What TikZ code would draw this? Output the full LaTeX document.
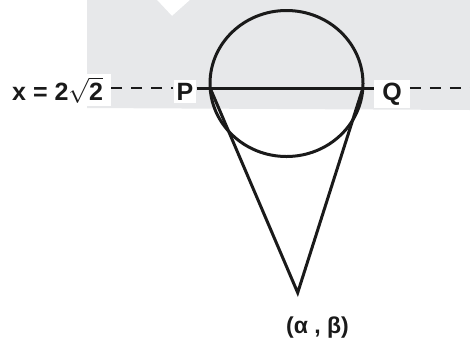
\documentclass[tikz,border=0pt]{standalone}
\usepackage{fontspec}
\setmainfont{Liberation Sans}
\definecolor{bggray}{HTML}{E7E8EA}
\definecolor{ink}{HTML}{1A1A1A}
\begin{document}
\begin{tikzpicture}[x=1pt,y=-1pt,
  lbl/.style={font=\fontsize{25}{28}\selectfont\bfseries, text=ink, fill=white, inner sep=3pt},
  curve/.style={line width=3pt, draw=ink},
  dashline/.style={line width=2.6pt, draw=ink, dash pattern=on 11pt off 9pt}]
\useasboundingbox (0,0) rectangle (470,341);
% background panel
\fill[bggray] (87,0) -- (157,0) -- (172,16) -- (190,0) -- (470,0) -- (470,110) -- (87,108) -- cycle;
% labels
\node[lbl, anchor=base west, inner xsep=8pt] (X) at (4,100) {x = 2$\sqrt{\mbox{2}}$};
\node[lbl, anchor=base] (P) at (185,100) {P};
\node[lbl, anchor=base, inner xsep=8pt] (Q) at (392,100) {Q};
\node[lbl, fill=none, anchor=base, font=\fontsize{23}{26}\selectfont\bfseries] (AB) at (317.5,333) {(α , β)};
% points
\coordinate (Pc) at (210.1,88);
\coordinate (Qc) at (362.9,88);
\coordinate (A) at (297.7,292.7);
\coordinate (E) at (472,88);
% circle and chord
\draw[curve] (286.5,83.5) ellipse [x radius=76.5, y radius=73];
\draw[curve] (Pc) -- (Qc);
\draw[curve] (Pc) -- (A) -- (Qc);
% connections to labels
\draw[curve] (P.east |- Pc) -- (Pc);
\draw[curve] (Qc) -- (Q.west |- Qc);
\draw[dashline] (X.east |- Pc) -- (P.west |- Pc);
\draw[dashline] (Q.east |- Qc) -- (E);
\end{tikzpicture}
\end{document}
